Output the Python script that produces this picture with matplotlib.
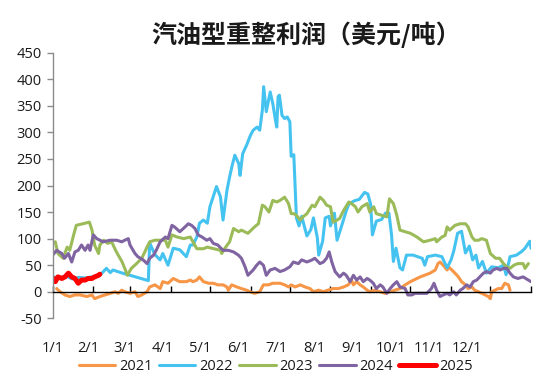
import matplotlib
matplotlib.use('Agg')
import matplotlib.pyplot as plt

plt.rcParams['font.family'] = ['Open Sans', 'DejaVu Sans']
plt.rcParams['axes.unicode_minus'] = False

title = '汽油型重整利润（美元/吨）'
series_names = ['2021', '2022', '2023', '2024', '2025']

# (day of year, value) pairs
s2021 = [(3, 6), (5.6, 0), (9.4, -6), (13, -9), (17, -6), (21, -6), (26, -9), (30, -6), (32, -13), (36, -9),
         (40, -6), (44, -3), (47.5, 0), (50, -3), (52.7, 3), (55, 0), (59, -3), (62.8, 0), (65, -9), (68, -6),
         (72, 0), (74, 9), (78, 13), (82, 6), (84, 19), (88, 16), (92, 25), (97, 19), (102, 19), (105, 22),
         (107, 19), (110, 22), (112, 28), (115, 19), (119, 16), (122.6, 16), (126, 13), (130, 13), (133, 9),
         (134, 3), (136.6, 13), (140.5, 9), (144, 6), (148, 3), (150.6, 0), (154, -3), (158, 0), (160.8, 13),
         (164.6, 13), (168, 16), (173.5, 16), (177, 13), (180, 9), (182, 13), (185, 9), (189, 13), (192.6, 9),
         (196.4, 6), (199, 0), (203, 3), (206.6, 0), (210, 3), (214, 6), (218, 6), (222, 9), (225.6, 13),
         (228, 22), (229.5, 13), (232, 19), (234.6, 13), (237, 9), (240, 3), (242, 0), (246, 3), (250, 0),
         (253.7, -3), (257.5, 0), (261, 3), (265, 6), (269, 13), (273, 19), (280.5, 28), (288, 35), (292, 41),
         (294, 53), (295.6, 56), (298, 50), (301, 41), (302, 47), (304.6, 41), (307, 35), (309.6, 28), (312, 19),
         (315, 13), (317, 6), (320, 9), (322, 3), (325, 0), (327.5, -3), (330, -6), (332.5, -9), (334, -13),
         (335, 0), (337.6, 3), (340, 6), (342.7, 6), (345, 16), (347.8, 13), (349, 3)]

s2022 = [(0, 28), (5, 26), (10, 30), (15, 24), (20, 27), (25, 26), (30, 28), (36, 31), (41, 44), (44, 36),
         (46, 41), (52, 36), (59, 31), (66, 26), (73, 21), (74, 92), (78, 70), (82, 60), (84, 72), (88, 50),
         (92, 82), (97, 79), (102, 66), (105, 88), (107, 88), (110, 103), (112, 129), (115, 135), (118, 129),
         (120, 160), (125, 198), (128, 179), (130, 135), (133, 191), (135, 216), (137, 238), (139, 257),
         (142, 241), (143, 219), (145, 260), (148, 276), (151, 295), (153, 304), (156, 310), (158, 304),
         (160, 342), (161, 386), (163, 339), (166, 376), (168, 354), (170, 323), (171, 310), (172, 367),
         (173, 370), (175, 332), (177, 326), (179, 329), (181, 320), (182, 255), (184, 258), (186, 139),
         (188, 124), (190, 142), (194, 105), (197, 117), (199, 139), (202, 101), (203, 69), (206, 95),
         (208, 139), (211, 142), (212, 124), (215, 148), (217, 97), (220, 120), (224, 152), (226, 165),
         (230, 171), (234, 174), (238, 187), (240.5, 184), (242.6, 165), (244, 107), (247, 133), (251, 136),
         (254, 148), (256.6, 148), (258.6, 107), (260, 57), (262, 82), (265, 45), (267, 41), (270, 69),
         (275, 69), (282, 63), (284, 50), (286, 66), (292, 69), (297, 66), (301, 45), (304, 60), (306, 76),
         (309, 110), (312, 114), (315, 73), (318, 86), (320.5, 60), (323, 69), (325, 45), (328, 57), (331, 35),
         (335, 47), (340, 45), (344, 50), (346, 32), (349, 66), (354, 69), (358, 76), (360.5, 82), (364, 95),
         (365, 82)]

s2023 = [(2, 94), (4, 72), (8, 63), (11, 84), (13, 78), (16, 107), (18, 125), (23, 128), (28, 131), (30, 116),
         (32, 88), (35, 72), (36, 88), (39, 97), (42, 91), (45, 94), (48, 78), (50, 69), (53, 56), (55, 44),
         (57, 31), (60, 44), (64, 53), (68, 63), (72, 84), (74, 94), (78, 97), (82, 97), (86, 97), (88, 84),
         (91, 107), (95, 103), (100, 100), (105, 103), (110, 81), (115, 81), (118, 84), (123, 81), (128, 78),
         (129, 72), (132, 84), (135, 94), (138, 119), (142, 113), (144, 116), (149, 110), (154, 122), (157, 128),
         (160, 163), (162, 160), (165, 150), (168, 172), (171, 169), (173.5, 172), (177, 178), (180, 166),
         (182, 147), (184, 147), (186, 144), (189, 135), (191, 141), (194, 147), (198, 163), (200, 160),
         (204, 178), (206.6, 172), (209, 163), (212, 160), (214, 131), (217, 135), (219, 138), (222, 153),
         (226, 169), (228, 166), (231, 160), (233, 150), (236, 160), (240, 166), (242, 150), (245, 160),
         (247, 147), (251, 144), (255, 141), (257, 175), (260, 166), (262.6, 144), (265, 116), (269, 113),
         (273, 110), (278, 103), (283, 94), (288, 97), (292, 100), (293, 94), (297, 103), (299.5, 106),
         (301, 122), (303, 116), (307, 125), (311, 128), (315, 128), (317, 122), (320, 103), (322, 97),
         (325, 97), (327.5, 100), (331, 97), (334, 72), (338, 63), (341, 63), (344, 53), (346.6, 47), (349, 44),
         (352, 50), (355, 53), (359, 53), (360.5, 44), (363, 53)]

s2024 = [(0, 69), (3, 78), (7, 72), (9, 63), (12, 72), (14.5, 56), (17, 75), (19.5, 78), (22, 88), (24.7, 78),
         (27, 88), (28.5, 78), (31, 107), (33.6, 100), (38.6, 94), (43.7, 97), (48.9, 97), (52.7, 94), (55, 97),
         (57.7, 100), (59, 88), (62.8, 72), (65, 66), (69, 60), (72, 53), (74, 63), (77, 69), (79, 78), (82, 94),
         (86, 103), (88, 100), (91, 125), (93, 122), (97, 113), (101, 122), (103.5, 128), (106, 125),
         (108.6, 119), (111, 107), (114, 103), (117.6, 97), (120, 100), (122.6, 91), (126, 88), (130, 78),
         (134, 78), (138, 75), (141.7, 69), (144, 63), (146.8, 47), (149, 31), (153, 41), (155.7, 50), (158, 56),
         (160.8, 50), (163, 31), (166, 41), (169.7, 44), (173.5, 38), (177, 41), (181, 47), (183.7, 56),
         (187.5, 53), (190, 60), (194, 56), (198, 60), (200, 63), (204, 53), (206.6, 56), (209, 63), (211, 75),
         (213, 56), (215.5, 38), (219, 28), (222, 35), (224, 31), (227, 19), (229.5, 31), (232, 22),
         (234.6, 28), (237, 19), (240, 25), (242, 22), (244.7, 16), (247, 6), (250, 13), (252, 9), (255, -3),
         (257.5, 6), (260, 13), (262.6, 19), (265, 9), (269, 6), (271, -6), (274, -6), (276.6, -3), (280, -3),
         (285.5, -3), (289, 6), (291, 16), (293, 3), (295.6, -9), (298, -6), (301, -3), (303, -6), (306, 0),
         (308, -6), (311, 3), (313, 6), (316, 13), (318.5, 9), (321, 19), (323.6, 22), (326, 28), (328.7, 35),
         (331, 38), (334, 35), (336, 41), (339, 44), (341.5, 41), (344, 44), (346.6, 44), (349, 35),
         (351.6, 28), (355, 25), (359, 28), (363, 22), (365, 19)]

s2025 = [(0.5, 25), (2, 19), (4, 28), (7, 25), (9.4, 28), (12, 35), (14.5, 28), (17, 25), (19.5, 16), (22, 22),
         (24.7, 22), (27, 25), (30, 25), (32, 28), (35, 31), (36, 33)]

month_start_days = [0, 31, 59, 90, 120, 151, 181, 212, 243, 273, 304, 334, 365]
month_labels = ['1/1', '2/1', '3/1', '4/1', '5/1', '6/1', '7/1', '8/1', '9/1', '10/1', '11/1', '12/1']
label_days = [0, 27.5, 55, 84, 112.5, 141.5, 171, 200, 229, 258, 287, 316]
yticks = list(range(-50, 451, 50))

colors = ['#F79646', '#45C3F0', '#9BBB59', '#8064A2', '#FF0000']
widths = [2.2, 2.2, 2.2, 2.2, 3.6]

fig = plt.figure(figsize=(5.5, 3.9), dpi=100)
ax = fig.add_axes([0.0958, 0.1838, 0.8696, 0.6811])

for name, data, c, lw in zip(series_names, [s2021, s2022, s2023, s2024, s2025], colors, widths):
    xs = [p[0] for p in data]
    ys = [p[1] for p in data]
    ax.plot(xs, ys, color=c, lw=lw, label=name, solid_joinstyle='round', solid_capstyle='round')

ax.set_xlim(0, 365)
ax.set_ylim(-50, 450)
ax.spines['top'].set_visible(False)
ax.spines['right'].set_visible(False)
ax.spines['bottom'].set_position(('data', 0))
ax.spines['bottom'].set_color('black')
ax.spines['bottom'].set_linewidth(1.0)
ax.spines['left'].set_color('#8c8c8c')
ax.spines['left'].set_linewidth(1.0)

ax.set_xticks(month_start_days)
ax.tick_params(axis='x', direction='in', length=4, width=1, color='black', labelbottom=False)
ax.set_yticks(yticks)
ax.tick_params(axis='y', direction='out', length=4, width=1, color='#8c8c8c',
               labelsize=10.5, labelcolor='#1a1a1a', pad=4)

sec = ax.secondary_xaxis(0)
sec.set_xticks(label_days, labels=month_labels)
sec.tick_params(length=0, pad=16, labelsize=10.5, labelcolor='#1a1a1a')
sec.spines['bottom'].set_visible(False)

fig.legend(loc='center', bbox_to_anchor=(276 / 550, 1 - 367 / 390), ncol=5, frameon=False,
           handlelength=2.5, handletextpad=0.25, columnspacing=0.45, fontsize=10.5,
           labelcolor='#1a1a1a')

fig.text(306 / 550, 1 - 35 / 390, title, ha='center', va='center', fontsize=18, fontweight='bold',
         family=['Noto Sans CJK SC', 'DejaVu Sans'], color='#1a1a1a')

fig.savefig('out.png', dpi=100)
